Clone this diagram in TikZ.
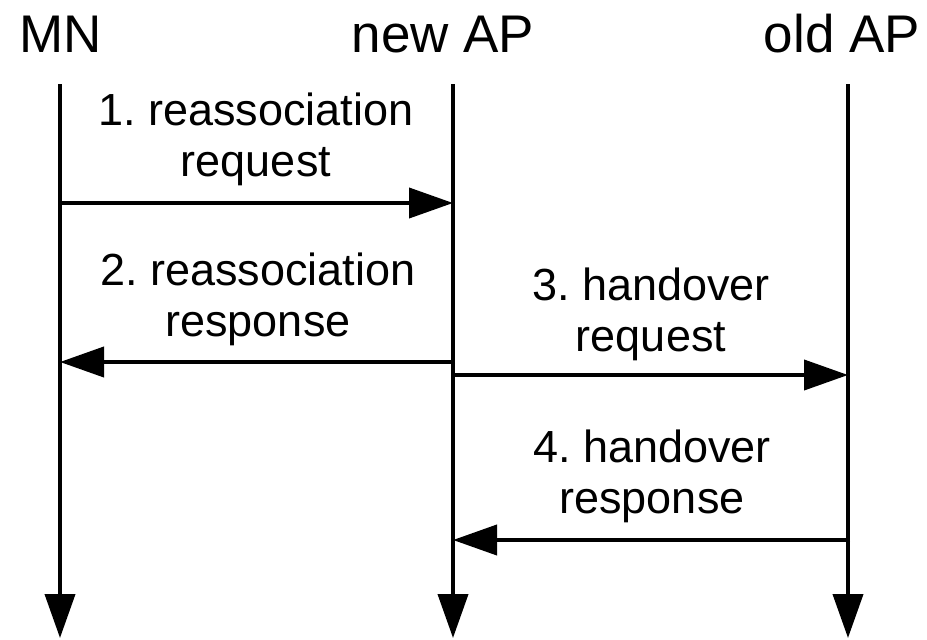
\documentclass[tikz,border=0pt]{standalone}
\usepackage{fontspec}
\setmainfont{Liberation Sans}
\usetikzlibrary{arrows.meta}
\frenchspacing
\begin{document}
\begin{tikzpicture}[x=1pt,y=-1pt,
  every node/.style={inner sep=0pt,outer sep=0pt},
  actor/.style={font=\fontsize{53}{60}\selectfont,anchor=base},
  msglabel/.style={font=\fontsize{45}{51}\selectfont,align=center,anchor=base},
  lifeline/.style={line width=4pt,-{Triangle[length=44pt,width=30pt]}},
  msg/.style={line width=4pt,-{Triangle[length=44pt,width=30pt]}}]
\useasboundingbox (0,0) rectangle (927,640);

% participants
\node[actor] (mn)  at (61,52)  {MN};
\node[actor] (nap) at (443,52) {new AP};
\node[actor] (oap) at (842,52) {old AP};

% lifeline ends
\coordinate (mnT)  at (60,84);   \coordinate (mnB)  at (60,638);
\coordinate (napT) at (453,84);  \coordinate (napB) at (453,638);
\coordinate (oapT) at (848,84);  \coordinate (oapB) at (848,638);

\draw[lifeline] (mnT) -- (mnB);
\draw[lifeline] (napT) -- (napB);
\draw[lifeline] (oapT) -- (oapB);

% message end points on the lifelines
\coordinate (m1s) at (58,203);  \coordinate (m1e) at (453,203);
\coordinate (m2s) at (455,362); \coordinate (m2e) at (60,362);
\coordinate (m3s) at (451,375); \coordinate (m3e) at (848,375);
\coordinate (m4s) at (850,540); \coordinate (m4e) at (453,540);

\draw[msg] (m1s) -- (m1e);
\draw[msg] (m2s) -- (m2e);
\draw[msg] (m3s) -- (m3e);
\draw[msg] (m4s) -- (m4e);

% message labels (anchored at the baseline of the last line)
\node[msglabel] (l1) at (256,176) {1. reassociation\\request};
\node[msglabel] (l2) at (258,336) {2. reassociation\\response};
\node[msglabel] (l3) at (651,351) {3. handover\\request};
\node[msglabel] (l4) at (652,513) {4. handover\\response};
\end{tikzpicture}
\end{document}
